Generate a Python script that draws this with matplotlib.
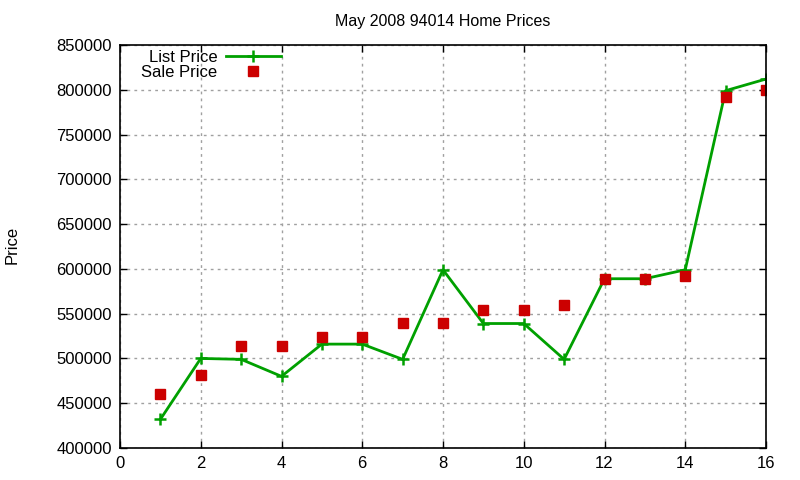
import matplotlib
matplotlib.use('Agg')
import matplotlib.pyplot as plt

# house number on the x axis, prices on y
houses = list(range(1, 17))
list_price = [432000, 500000, 499000, 480000, 516000, 516000, 499000, 599000,
              539000, 539000, 499000, 589000, 589000, 599000, 799000, 812000]
sale_price = [460000, 481000, 514000, 514000, 524000, 524000, 540000, 540000,
              554000, 554000, 560000, 589000, 589000, 592000, 792000, 800000]

plt.rcParams['font.family'] = ['Liberation Sans', 'DejaVu Sans']

fig = plt.figure(figsize=(8, 4.8), dpi=100)
ax = fig.add_axes([120/800, 1 - 448/480, (766-120)/800, (448-45)/480])

ax.plot(houses, list_price, color='#00a000', linewidth=2, marker='+',
        markersize=9, markeredgewidth=1.8, label='List Price')
ax.plot(houses, sale_price, linestyle='none', color='#cc0000', marker='s',
        markersize=6.5, label='Sale Price')

ax.set_xlim(0, 16)
ax.set_ylim(400000, 850000)
ax.set_xticks(range(0, 17, 2))
ax.set_yticks(range(400000, 850001, 50000))
ax.ticklabel_format(style='plain', axis='y', useOffset=False)
ax.tick_params(direction='in', length=5, width=1, top=True, right=True,
               labelsize=12, pad=6)
ax.grid(True, color='#a0a0a0', linestyle=(0, (2, 3)), linewidth=1)
for s in ax.spines.values():
    s.set_linewidth(1.2)

ax.set_title('May 2008 94014 Home Prices', fontsize=11.5, pad=14)
fig.text(12/800, 1 - 245/480, 'Price', rotation=90, fontsize=12,
         ha='center', va='center')

ax.legend(loc='upper left', bbox_to_anchor=(0.01, 1.025), frameon=False,
          markerfirst=False, fontsize=12, handlelength=3.3,
          handletextpad=0.5, labelspacing=0.0)

plt.savefig('out.png', dpi=100)
